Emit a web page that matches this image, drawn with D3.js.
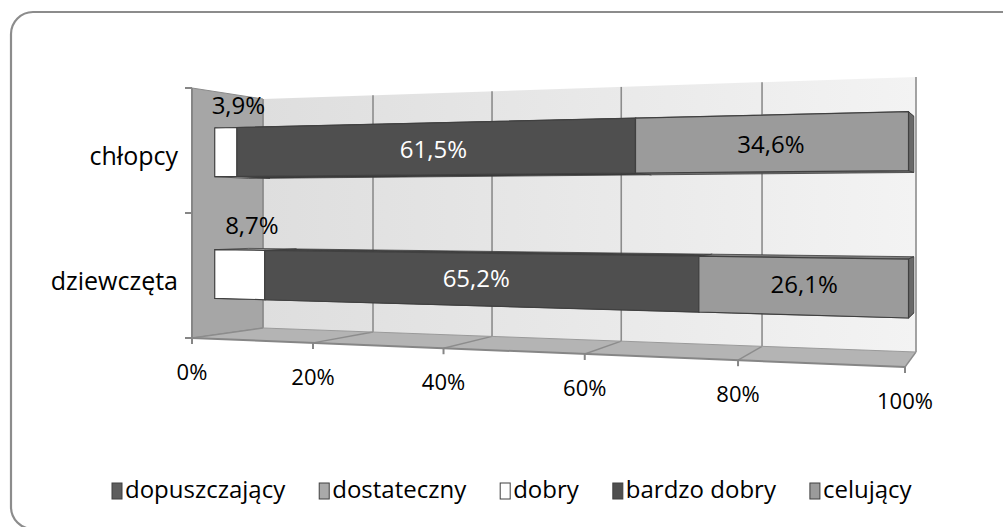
<!DOCTYPE html>
<html><head><meta charset="utf-8">
<script src="https://cdn.jsdelivr.net/npm/d3@7"></script>
<style>
html,body{margin:0;padding:0;background:#fff;}
svg{display:block;font-family:"Open Sans",sans-serif;}
</style></head>
<body>
<svg id="chart" width="1003" height="527"></svg>
<script>
// ---- data ----
const categories = ["chłopcy", "dziewczęta"];
const seriesNames = ["dopuszczający", "dostateczny", "dobry", "bardzo dobry", "celujący"];
const dopuszczajacy = [0, 0];
const dostateczny = [0, 0];
const dobry = [3.9, 8.7];
const bardzoDobry = [61.5, 65.2];
const celujacy = [34.6, 26.1];
const tickValues = [0, 20, 40, 60, 80, 100];
const seriesColors = ["#5e5e5e", "#a9a9a9", "#ffffff", "#4f4f4f", "#9b9b9b"];
const labelColors = ["#000", "#000", "#000", "#fff", "#000"];

const seriesValues = [dopuszczajacy, dostateczny, dobry, bardzoDobry, celujacy];
const rows = categories.map((c, i) => {
  const r = {category: c};
  seriesNames.forEach((s, j) => r[s] = seriesValues[j][i]);
  return r;
});
const stacked = d3.stack().keys(seriesNames)(rows);

const svg = d3.select("#chart");

// ---- frame ----
svg.append("rect").attr("x", 11).attr("y", 12).attr("width", 1100).attr("height", 517)
  .attr("rx", 22).attr("fill", "none").attr("stroke", "#8c8c8c").attr("stroke-width", 2.2);

// ---- 3D projection helpers ----
function projFit(x0, xm, um, x1) {
  const c = (um * (x1 - x0) - (xm - x0)) / (um * (xm - x1));
  const a = x1 - x0 + x1 * c;
  return u => (x0 + a * u) / (1 + c * u);
}
const front = {x: projFit(192, 313, 0.2, 905), xl: 192, xr: 905, yb0: 338, yb1: 367, yt0: 88, yt1: 63};
const back  = {x: projFit(263, 373, 0.2, 916), xl: 263, xr: 916, yb0: 328, yb1: 352, yt0: 99, yt1: 77};
function planePt(P, u, v) {
  const x = P.x(u);
  const t = (x - P.xl) / (P.xr - P.xl);
  const yb = P.yb0 + t * (P.yb1 - P.yb0);
  const yt = P.yt0 + t * (P.yt1 - P.yt0);
  return [x, yb + v * (yt - yb)];
}
function pt(u, v, z) {
  const a = planePt(front, u, v), b = planePt(back, u, v);
  return [a[0] + (b[0] - a[0]) * z, a[1] + (b[1] - a[1]) * z];
}
const xs = d3.scaleLinear().domain([0, 100]).range([0, 1]);
const ys = d3.scaleBand().domain(categories).range([1, 0]).paddingInner(0.6).paddingOuter(0.3);
const poly = pts => "M" + pts.map(p => p[0].toFixed(2) + "," + p[1].toFixed(2)).join("L") + "Z";

// ---- walls ----
const defs = svg.append("defs");
const g1 = defs.append("linearGradient").attr("id", "backGrad").attr("x1", "0").attr("x2", "1").attr("y1", "0").attr("y2", "0");
g1.append("stop").attr("offset", "0").attr("stop-color", "#dedede");
g1.append("stop").attr("offset", "1").attr("stop-color", "#f3f3f3");

const walls = svg.append("g");
walls.append("path").attr("d", poly([pt(0, 0, 1), pt(0, 1, 1), pt(1, 1, 1), pt(1, 0, 1)]))
  .attr("fill", "url(#backGrad)");
walls.append("path").attr("d", poly([pt(0, 0, 0), pt(0, 1, 0), pt(0, 1, 1), pt(0, 0, 1)]))
  .attr("fill", "#a6a6a6").attr("stroke", "#8a8a8a").attr("stroke-width", 1);
walls.append("path").attr("d", poly([pt(0, 0, 0), pt(1, 0, 0), pt(1, 0, 1), pt(0, 0, 1)]))
  .attr("fill", "#b4b4b4");

// gridlines on back wall and floor
tickValues.forEach(t => {
  const u = xs(t);
  const b0 = pt(u, 0, 1), b1 = pt(u, 1, 1), f0 = pt(u, 0, 0);
  walls.append("line").attr("x1", b0[0]).attr("y1", b0[1]).attr("x2", b1[0]).attr("y2", b1[1])
    .attr("stroke", "#8c8c8c").attr("stroke-width", 1.6);
  walls.append("line").attr("x1", f0[0]).attr("y1", f0[1]).attr("x2", b0[0]).attr("y2", b0[1])
    .attr("stroke", "#8c8c8c").attr("stroke-width", 1.4);
});
{
  const a = pt(0, 0, 1), b = pt(1, 0, 1);
  walls.append("line").attr("x1", a[0]).attr("y1", a[1]).attr("x2", b[0]).attr("y2", b[1])
    .attr("stroke", "#9a9a9a").attr("stroke-width", 1);
}

// axes
const axis = svg.append("g").attr("stroke", "#868686").attr("stroke-width", 2);
{
  const a = pt(0, 0, 0), b = pt(0, 1, 0);
  axis.append("line").attr("x1", a[0]).attr("y1", a[1]).attr("x2", b[0]).attr("y2", b[1]);
  [0, 0.5, 1].forEach(v => {
    const p = pt(0, v, 0);
    axis.append("line").attr("x1", p[0] - 7).attr("y1", p[1]).attr("x2", p[0]).attr("y2", p[1]);
  });
  const c = pt(1, 0, 0);
  axis.append("line").attr("x1", a[0]).attr("y1", a[1]).attr("x2", c[0]).attr("y2", c[1]);
  tickValues.forEach(t => {
    const p = pt(xs(t), 0, 0);
    axis.append("line").attr("x1", p[0]).attr("y1", p[1]).attr("x2", p[0]).attr("y2", p[1] + 6);
  });
}

// ---- bars ----
const z0 = 0.32, z1 = 0.8;
const bars = svg.append("g");
categories.forEach((cat, ci) => {
  const vb = ys(cat), vt = ys(cat) + ys.bandwidth();
  const segs = stacked.map((s, si) => ({si, a: s[ci][0], b: s[ci][1]})).filter(d => d.b - d.a > 0);
  segs.forEach((d, k) => {
    const ua = xs(d.a), ub = xs(d.b);
    const col = d3.color(seriesColors[d.si]);
    bars.append("path").attr("d", poly([pt(ua, vb, z0), pt(ub, vb, z0), pt(ub, vb, z1), pt(ua, vb, z1)]))
      .attr("fill", col.darker(0.9)).attr("stroke", "#3c3c3c").attr("stroke-width", 0.8);
    bars.append("path").attr("d", poly([pt(ua, vt, z0), pt(ub, vt, z0), pt(ub, vt, z1), pt(ua, vt, z1)]))
      .attr("fill", col.darker(0.5)).attr("stroke", "#3c3c3c").attr("stroke-width", 0.8);
    if (k === segs.length - 1) {
      bars.append("path").attr("d", poly([pt(ub, vb, z0), pt(ub, vt, z0), pt(ub, vt, z1), pt(ub, vb, z1)]))
        .attr("fill", col.darker(1.1)).attr("stroke", "#3c3c3c").attr("stroke-width", 0.8);
    }
    bars.append("path").attr("d", poly([pt(ua, vb, z0), pt(ua, vt, z0), pt(ub, vt, z0), pt(ub, vb, z0)]))
      .attr("fill", col).attr("stroke", "#404040").attr("stroke-width", 1.2);
  });
});

// ---- data labels ----
const fmt = v => v.toFixed(1).replace(".", ",") + "%";
const labels = svg.append("g").attr("font-size", 24).attr("text-anchor", "middle");
categories.forEach((cat, ci) => {
  const vc = ys(cat) + ys.bandwidth() / 2;
  stacked.forEach((s, si) => {
    const a = s[ci][0], b = s[ci][1];
    if (b - a <= 0) return;
    const small = (b - a) < 10;
    const v = small ? ys(cat) + ys.bandwidth() * 1.5 : vc;
    const p = pt(xs((a + b) / 2), v, 0.5);
    labels.append("text").attr("x", p[0]).attr("y", p[1]).attr("dy", "0.35em")
      .attr("fill", small ? "#000" : labelColors[si]).text(fmt(b - a));
  });
});

// ---- category labels ----
const catG = svg.append("g").attr("font-size", 25).attr("text-anchor", "end").attr("fill", "#000");
categories.forEach(cat => {
  const p = pt(0, ys(cat) + ys.bandwidth() / 2, 0);
  catG.append("text").attr("x", p[0] - 14).attr("y", p[1] + 6).attr("dy", "0.35em").text(cat);
});

// ---- value axis labels ----
const tickG = svg.append("g").attr("font-size", 22).attr("text-anchor", "middle").attr("fill", "#000");
tickValues.forEach(t => {
  const p = pt(xs(t), 0, 0);
  tickG.append("text").attr("x", p[0]).attr("y", p[1] + 34).attr("dy", "0.35em").text(t + "%");
});

// ---- legend ----
const leg = svg.append("g").attr("font-size", 24);
let lx = 112;
seriesNames.forEach((name, i) => {
  leg.append("rect").attr("x", lx).attr("y", 483).attr("width", 10).attr("height", 16)
    .attr("fill", seriesColors[i]).attr("stroke", "#404040").attr("stroke-width", 1);
  const t = leg.append("text").attr("x", lx + 13).attr("y", 498).attr("fill", "#000").text(name);
  lx += 13 + t.node().getComputedTextLength() + 34;
});
</script>
</body></html>
